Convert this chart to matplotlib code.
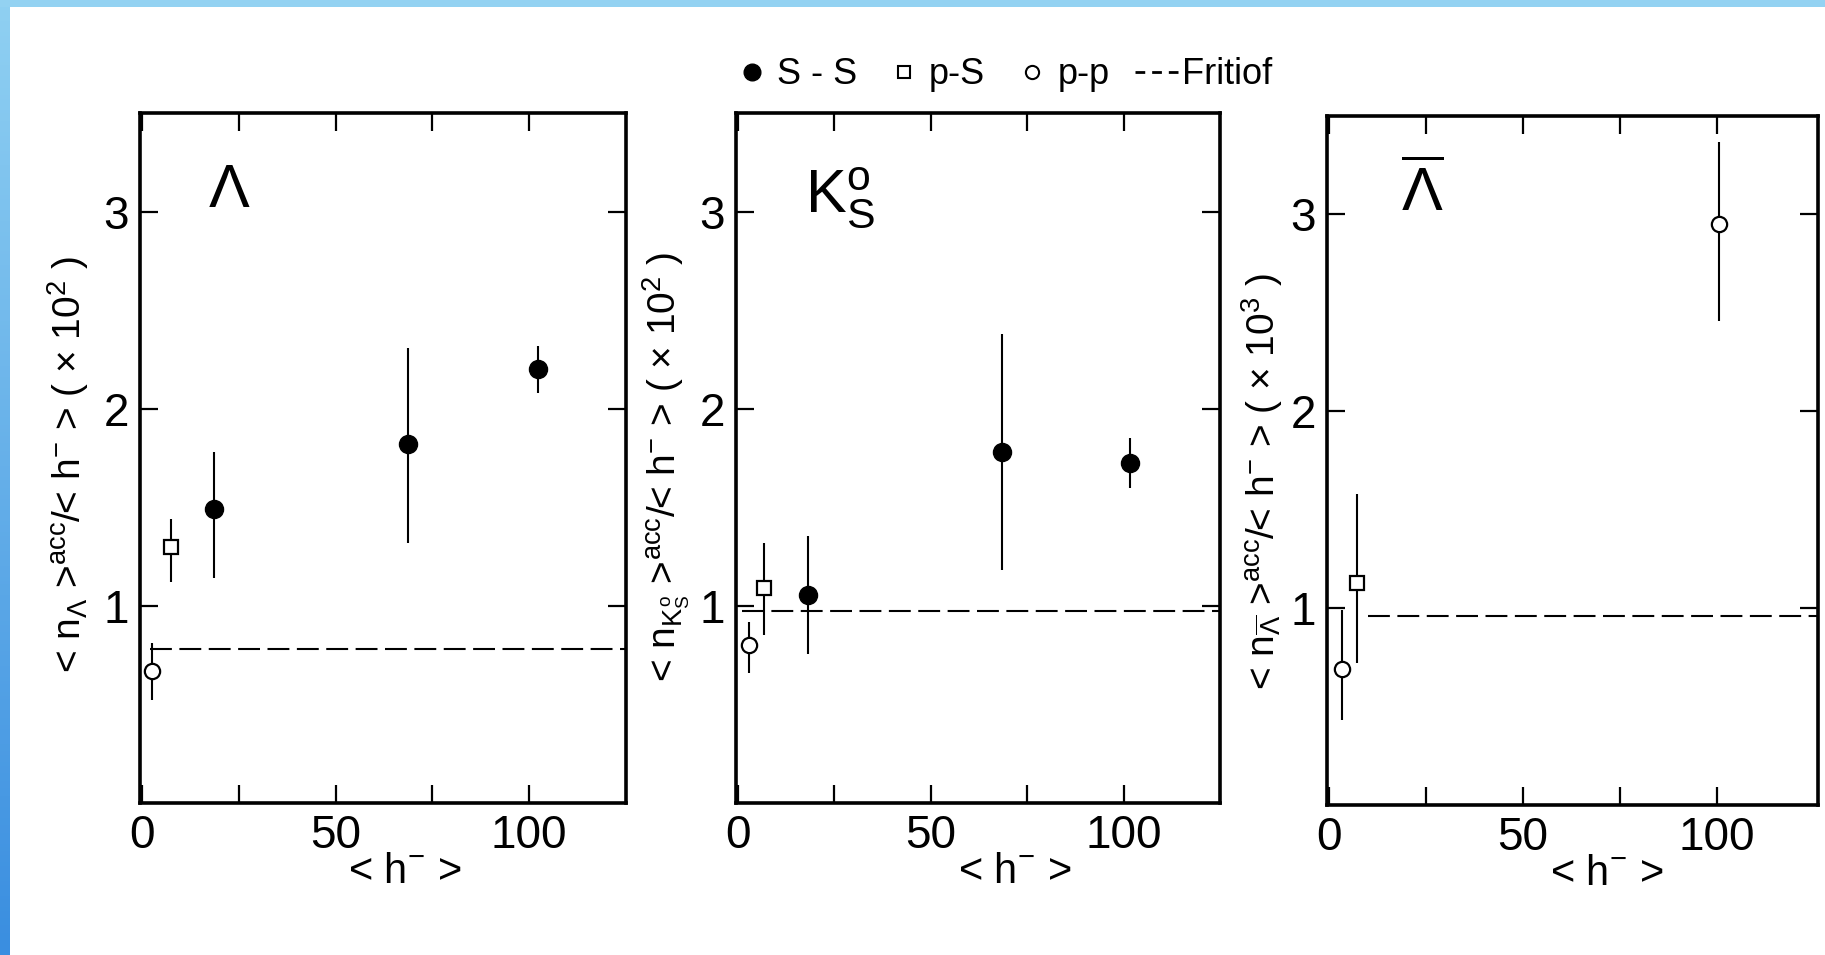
import numpy as np
import matplotlib
matplotlib.use('Agg')
import matplotlib.pyplot as plt
from matplotlib import font_manager
from matplotlib.lines import Line2D
from matplotlib.patches import Rectangle
from matplotlib.colors import LinearSegmentedColormap


# ratio <n>/<h-> versus <h->, one panel per particle
LAM_SS_X = [18.6, 68.6, 102.4]
LAM_SS_Y = [1.49, 1.82, 2.20]
LAM_SS_LO = [0.35, 0.50, 0.12]
LAM_SS_HI = [0.29, 0.49, 0.12]
LAM_PS_X = [7.4]
LAM_PS_Y = [1.30]
LAM_PS_LO = [0.18]
LAM_PS_HI = [0.14]
LAM_PP_X = [2.5]
LAM_PP_Y = [0.67]
LAM_PP_LO = [0.15]
LAM_PP_HI = [0.14]
LAM_FRITIOF = 0.78

K0_SS_X = [18.2, 68.6, 101.7]
K0_SS_Y = [1.055, 1.78, 1.725]
K0_SS_LO = [0.30, 0.60, 0.125]
K0_SS_HI = [0.30, 0.60, 0.125]
K0_PS_X = [6.8]
K0_PS_Y = [1.09]
K0_PS_LO = [0.24]
K0_PS_HI = [0.23]
K0_PP_X = [2.8]
K0_PP_Y = [0.80]
K0_PP_LO = [0.14]
K0_PP_HI = [0.12]
K0_FRITIOF = 0.975

ALAM_SS_X = []
ALAM_SS_Y = []
ALAM_SS_LO = []
ALAM_SS_HI = []
ALAM_PS_X = [7.2]
ALAM_PS_Y = [1.13]
ALAM_PS_LO = [0.41]
ALAM_PS_HI = [0.45]
ALAM_PP_X = [3.3, 100.5]
ALAM_PP_Y = [0.69, 2.95]
ALAM_PP_LO = [0.26, 0.49]
ALAM_PP_HI = [0.30, 0.42]
ALAM_FRITIOF = 0.96

X_TICKS = [0, 25, 50, 75, 100]
X_TICK_LABELS = ['0', '', '50', '', '100']
Y_TICKS = [1, 2, 3]
Y_TICK_LABELS = ['1', '2', '3']

LEGEND_LABELS = ['S - S', 'p-S', 'p-p', 'Fritiof']


names = {f.name for f in font_manager.fontManager.ttflist}
FONT = 'Liberation Sans Narrow' if 'Liberation Sans Narrow' in names else 'Liberation Sans'

plt.rcParams['font.family'] = [FONT, 'DejaVu Sans']
plt.rcParams['mathtext.fontset'] = 'custom'
plt.rcParams['mathtext.rm'] = FONT
plt.rcParams['mathtext.it'] = FONT  # keep math letters upright
plt.rcParams['mathtext.bf'] = FONT

W, H = 1825, 955
fig = plt.figure(figsize=(W / 100, H / 100), dpi=100)

# slide frame: thin blue strip on top, gradient strip on the left
fig.patches.append(Rectangle((0, 1 - 7 / H), 1, 7 / H, transform=fig.transFigure,
                             facecolor='#93d2f2', edgecolor='none'))
band = fig.add_axes([0, 0, 10 / W, 1 - 7 / H])
band.imshow(np.linspace(0, 1, 256)[:, None], aspect='auto',
            cmap=LinearSegmentedColormap.from_list('band', ['#8fd0f2', '#3a8ee0']))
band.set_axis_off()

panels = [
    dict(rect=(140, 113, 486, 690), xmax=125,
         ss=(LAM_SS_X, LAM_SS_Y, LAM_SS_LO, LAM_SS_HI),
         ps=(LAM_PS_X, LAM_PS_Y, LAM_PS_LO, LAM_PS_HI),
         pp=(LAM_PP_X, LAM_PP_Y, LAM_PP_LO, LAM_PP_HI),
         fritiof=LAM_FRITIOF, f_start=2,
         title=r'$\Lambda$', title_xy=(0.14, 0.864),
         ylabel=r'< n$_{\Lambda}$ >$^{\rm acc}$/< h$^{-}$ > ( × 10$^{2}$ )',
         ylab_xy=(-0.10, 0.49), xlab_x=0.545),
    dict(rect=(736, 113, 484, 690), xmax=125,
         ss=(K0_SS_X, K0_SS_Y, K0_SS_LO, K0_SS_HI),
         ps=(K0_PS_X, K0_PS_Y, K0_PS_LO, K0_PS_HI),
         pp=(K0_PP_X, K0_PP_Y, K0_PP_LO, K0_PP_HI),
         fritiof=K0_FRITIOF, f_start=1,
         title=r'K$^{\rm o}_{\rm S}$', title_xy=(0.143, 0.857),
         ylabel=r'< n$_{K^{o}_{S}}$ >$^{\rm acc}$/< h$^{-}$ > ( × 10$^{2}$ )',
         ylab_xy=(-0.09, 0.487), xlab_x=0.575),
    dict(rect=(1327, 116, 491, 689), xmax=126,
         ss=(ALAM_SS_X, ALAM_SS_Y, ALAM_SS_LO, ALAM_SS_HI),
         ps=(ALAM_PS_X, ALAM_PS_Y, ALAM_PS_LO, ALAM_PS_HI),
         pp=(ALAM_PP_X, ALAM_PP_Y, ALAM_PP_LO, ALAM_PP_HI),
         fritiof=ALAM_FRITIOF, f_start=10,
         title=r'$\overline{\Lambda}$', title_xy=(0.15, 0.862),
         ylabel=r'< n$_{\overline{\Lambda}}$ >$^{\rm acc}$/< h$^{-}$ > ( × 10$^{3}$ )',
         ylab_xy=(-0.085, 0.47), xlab_x=0.57),
]

for p in panels:
    left, top, width, height = p['rect']
    ax = fig.add_axes([left / W, 1 - (top + height) / H, width / W, height / H])

    # Fritiof prediction
    ax.plot([p['f_start'], p['xmax']], [p['fritiof']] * 2, color='k', lw=1.5,
            dashes=(10.5, 3.6), zorder=1)

    x, y, lo, hi = p['ss']
    if x:
        ax.errorbar(x, y, yerr=[lo, hi], fmt='o', color='k', ms=13,
                    elinewidth=1.5, capsize=0, zorder=3)
    x, y, lo, hi = p['ps']
    ax.errorbar(x, y, yerr=[lo, hi], fmt='s', color='k', mfc='white', mec='k',
                mew=1.6, ms=10.5, elinewidth=1.5, capsize=0, zorder=3)
    x, y, lo, hi = p['pp']
    ax.errorbar(x, y, yerr=[lo, hi], fmt='o', color='k', mfc='white', mec='k',
                mew=1.6, ms=11, elinewidth=1.5, capsize=0, zorder=3)

    ax.set_xlim(-0.5, p['xmax'])
    ax.set_ylim(0, 3.5)
    ax.set_xticks(X_TICKS, X_TICK_LABELS)
    ax.set_yticks(Y_TICKS, Y_TICK_LABELS)
    ax.tick_params(direction='in', top=True, right=True, length=13, width=1.6,
                   labelsize=33, pad=8)
    for s in ax.spines.values():
        s.set_linewidth(2.6)

    ax.text(*p['title_xy'], p['title'], transform=ax.transAxes, fontsize=44,
            ha='left', va='baseline')
    ax.set_ylabel(p['ylabel'], fontsize=28)
    ax.yaxis.set_label_coords(*p['ylab_xy'])
    ax.set_xlabel(r'< h$^{-}$ >', fontsize=30, va='center')
    ax.xaxis.set_label_coords(p['xlab_x'], -0.10)

handles = [
    Line2D([], [], ls='none', marker='o', color='k', ms=12),
    Line2D([], [], ls='none', marker='s', mfc='white', mec='k', mew=1.5, ms=9),
    Line2D([], [], ls='none', marker='o', mfc='white', mec='k', mew=1.5, ms=9.5),
    Line2D([], [], color='k', lw=2, dashes=(3.5, 2.5)),
]
fig.legend(handles, LEGEND_LABELS, loc='center', bbox_to_anchor=(1001 / W, 1 - 75 / H),
           ncol=4, frameon=False, fontsize=26, handlelength=1.2,
           handletextpad=0.1, columnspacing=0.7)

fig.savefig('out.png', dpi=100)
